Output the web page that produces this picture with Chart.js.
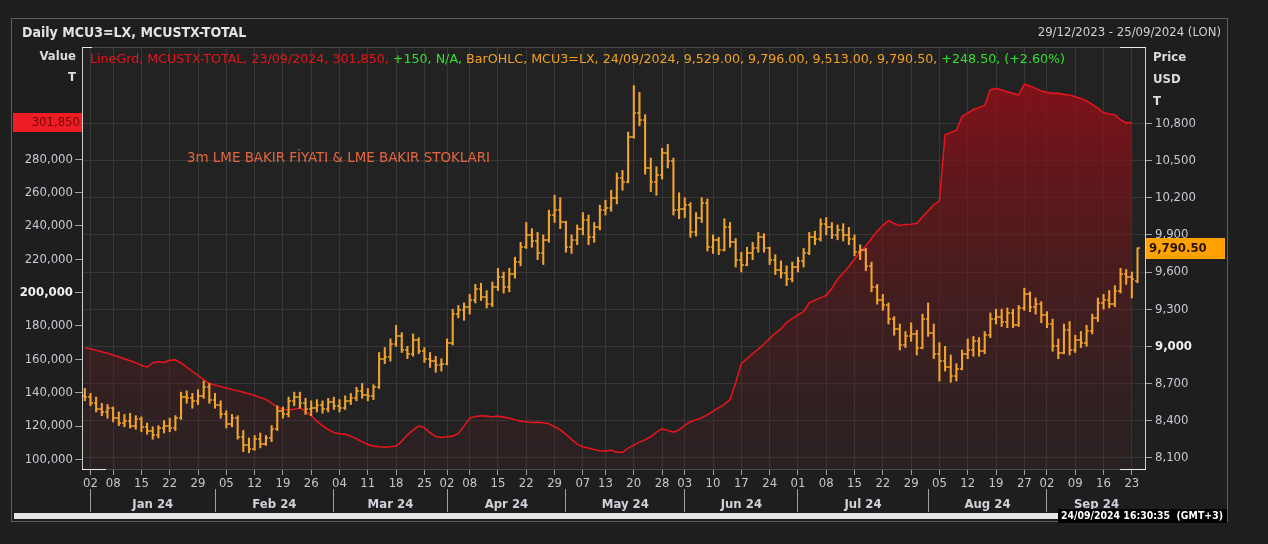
<!DOCTYPE html>
<html>
<head>
<meta charset="utf-8">
<script src="https://cdn.jsdelivr.net/npm/chart.js@4.4.1/dist/chart.umd.min.js"></script>
<style>
  html, body { margin: 0; padding: 0; background: #1e1e1e; }
  canvas { display: block; }
</style>
</head>
<body>
<canvas id="chart" width="1268" height="544"></canvas>
<script>
// trading days, 29/12/2023 - 25/09/2024
const dates = [
  '2023-12-29',
  '2024-01-02','2024-01-03','2024-01-04','2024-01-05','2024-01-08','2024-01-09','2024-01-10','2024-01-11','2024-01-12',
  '2024-01-15','2024-01-16','2024-01-17','2024-01-18','2024-01-19','2024-01-22','2024-01-23','2024-01-24','2024-01-25',
  '2024-01-26','2024-01-29','2024-01-30','2024-01-31',
  '2024-02-01','2024-02-02','2024-02-05','2024-02-06','2024-02-07','2024-02-08','2024-02-09','2024-02-12','2024-02-13',
  '2024-02-14','2024-02-15','2024-02-16','2024-02-19','2024-02-20','2024-02-21','2024-02-22','2024-02-23','2024-02-26',
  '2024-02-27','2024-02-28','2024-02-29',
  '2024-03-01','2024-03-04','2024-03-05','2024-03-06','2024-03-07','2024-03-08','2024-03-11','2024-03-12','2024-03-13',
  '2024-03-14','2024-03-15','2024-03-18','2024-03-19','2024-03-20','2024-03-21','2024-03-22','2024-03-25','2024-03-26',
  '2024-03-27','2024-03-28',
  '2024-04-02','2024-04-03','2024-04-04','2024-04-05','2024-04-08','2024-04-09','2024-04-10','2024-04-11','2024-04-12',
  '2024-04-15','2024-04-16','2024-04-17','2024-04-18','2024-04-19','2024-04-22','2024-04-23','2024-04-24','2024-04-25',
  '2024-04-26','2024-04-29','2024-04-30',
  '2024-05-01','2024-05-02','2024-05-03','2024-05-07','2024-05-08','2024-05-09','2024-05-10','2024-05-13','2024-05-14',
  '2024-05-15','2024-05-16','2024-05-17','2024-05-20','2024-05-21','2024-05-22','2024-05-23','2024-05-24','2024-05-28',
  '2024-05-29','2024-05-30','2024-05-31',
  '2024-06-03','2024-06-04','2024-06-05','2024-06-06','2024-06-07','2024-06-10','2024-06-11','2024-06-12','2024-06-13',
  '2024-06-14','2024-06-17','2024-06-18','2024-06-19','2024-06-20','2024-06-21','2024-06-24','2024-06-25','2024-06-26',
  '2024-06-27','2024-06-28',
  '2024-07-01','2024-07-02','2024-07-03','2024-07-04','2024-07-05','2024-07-08','2024-07-09','2024-07-10','2024-07-11',
  '2024-07-12','2024-07-15','2024-07-16','2024-07-17','2024-07-18','2024-07-19','2024-07-22','2024-07-23','2024-07-24',
  '2024-07-25','2024-07-26','2024-07-29','2024-07-30','2024-07-31',
  '2024-08-01','2024-08-02','2024-08-05','2024-08-06','2024-08-07','2024-08-08','2024-08-09','2024-08-12','2024-08-13',
  '2024-08-14','2024-08-15','2024-08-16','2024-08-19','2024-08-20','2024-08-21','2024-08-22','2024-08-23','2024-08-27',
  '2024-08-28','2024-08-29','2024-08-30',
  '2024-09-02','2024-09-03','2024-09-04','2024-09-05','2024-09-06','2024-09-09','2024-09-10','2024-09-11','2024-09-12',
  '2024-09-13','2024-09-16','2024-09-17','2024-09-18','2024-09-19','2024-09-20','2024-09-23','2024-09-24','2024-09-25'
];

const weekTicks = [
  '2024-01-02','2024-01-08','2024-01-15','2024-01-22','2024-01-29','2024-02-05','2024-02-12','2024-02-19','2024-02-26',
  '2024-03-04','2024-03-11','2024-03-18','2024-03-25','2024-04-02','2024-04-08','2024-04-15','2024-04-22','2024-04-29',
  '2024-05-07','2024-05-13','2024-05-20','2024-05-28','2024-06-03','2024-06-10','2024-06-17','2024-06-24','2024-07-01',
  '2024-07-08','2024-07-15','2024-07-22','2024-07-29','2024-08-05','2024-08-12','2024-08-19','2024-08-27','2024-09-02',
  '2024-09-09','2024-09-16','2024-09-23'
];
const monthNames = ['Jan 24','Feb 24','Mar 24','Apr 24','May 24','Jun 24','Jul 24','Aug 24','Sep 24'];

// MCU3=LX, 3m LME copper, USD/t
const open = [
  8600,8590,8545,8490,8470,8500,8420,8380,8400,8360,8410,8350,8320,8280,8340,8360,8340,8420,8590,8580,8560,8600,8670,
  8570,8530,8450,8370,8420,8270,8200,8170,8250,8210,8260,8330,8480,8450,8560,8590,8540,8490,8500,8530,8490,
  8550,8520,8500,8560,8580,8640,8610,8600,8670,8900,8910,9020,9080,8970,8940,9050,8960,8900,8880,8850,
  8860,9030,9260,9290,9320,9370,9460,9400,9340,9480,9560,9480,9580,9680,9800,9900,9850,9750,9860,10060,10100,
  10000,9800,9860,9950,10020,9880,9960,10100,10120,10200,10360,10330,10690,10880,10830,10440,10330,10380,10560,10500,10100,
  10110,10140,9920,10040,10160,9800,9860,9780,9960,9840,9700,9660,9750,9790,9880,9790,9700,9620,9590,9540,
  9640,9690,9750,9880,9870,9990,9960,9900,9940,9900,9870,9760,9780,9650,9480,9370,9330,9220,9140,9010,9080,9100,8990,
  9220,9110,8940,8880,8830,8760,8820,8940,8970,9040,8960,9090,9220,9240,9200,9270,9170,9310,9420,9320,9340,
  9250,9180,9000,8950,9130,8970,9050,9030,9120,9230,9350,9370,9340,9450,9580,9560,9529,null
];
const high = [
  8660,8620,8590,8540,8530,8510,8470,8450,8460,8440,8430,8380,8350,8360,8400,8420,8440,8630,8640,8620,8650,8720,8700,
  8620,8560,8480,8450,8440,8320,8260,8280,8300,8280,8360,8520,8510,8590,8630,8630,8580,8560,8570,8560,8580,
  8590,8570,8600,8620,8670,8700,8660,8690,8950,8990,9060,9170,9110,9000,9100,9070,8990,8950,8920,8900,
  9060,9300,9330,9350,9420,9500,9510,9450,9520,9630,9600,9630,9720,9840,10000,9950,9920,9900,10100,10220,10200,
  10010,9900,9980,10080,10060,10000,10140,10180,10260,10400,10420,10730,11105,11050,10870,10520,10450,10600,10630,10520,10240,
  10200,10160,10080,10200,10190,9900,9880,10030,10000,9870,9760,9800,9840,9920,9910,9800,9740,9690,9650,9680,
  9720,9790,9920,9930,10030,10040,10000,9980,9990,9960,9900,9820,9790,9680,9500,9420,9350,9240,9180,9120,9190,9130,9260,
  9350,9180,9030,9000,8930,8860,8970,9060,9080,9070,9120,9270,9300,9300,9310,9300,9330,9470,9440,9390,9360,
  9280,9220,9060,9180,9200,9090,9120,9170,9260,9390,9420,9450,9490,9630,9620,9600,9796,null
];
const low = [
  8560,8520,8470,8440,8420,8390,8360,8350,8340,8330,8310,8290,8250,8260,8300,8310,8320,8410,8540,8500,8530,8580,8540,
  8500,8420,8340,8350,8250,8150,8140,8160,8180,8200,8230,8320,8420,8430,8520,8500,8450,8440,8470,8460,8470,
  8490,8470,8490,8530,8560,8580,8560,8570,8660,8860,8880,9000,8950,8900,8920,8940,8870,8830,8790,8800,
  8850,9010,9230,9210,9260,9350,9370,9310,9320,9450,9430,9440,9550,9650,9790,9800,9700,9660,9840,10000,9950,
  9760,9750,9820,9900,9820,9840,9940,10060,10090,10150,10260,10320,10680,10780,10390,10250,10220,10350,10440,10060,10030,
  10040,9880,9890,10000,9770,9750,9740,9770,9800,9640,9600,9650,9700,9760,9760,9660,9580,9550,9490,9520,
  9600,9640,9740,9820,9850,9900,9870,9860,9850,9820,9730,9700,9610,9440,9340,9290,9180,9090,8970,8990,9040,8930,8980,
  9080,8900,8720,8800,8710,8720,8810,8900,8920,8920,8940,9070,9180,9160,9150,9150,9160,9290,9280,9260,9190,
  9150,8960,8900,8940,8930,8950,8990,9000,9100,9200,9300,9310,9320,9430,9500,9390,9513,null
];
const close = [
  8590,8545,8490,8470,8500,8420,8380,8400,8360,8410,8350,8320,8280,8340,8360,8340,8420,8590,8580,8560,8600,8670,8570,
  8530,8450,8370,8420,8270,8200,8170,8250,8210,8260,8330,8480,8450,8560,8590,8540,8490,8500,8530,8490,8550,
  8520,8500,8560,8580,8640,8610,8600,8670,8900,8910,9020,9080,8970,8940,9050,8960,8900,8880,8850,8860,
  9030,9260,9290,9320,9370,9460,9400,9340,9480,9560,9480,9580,9680,9800,9900,9850,9750,9860,10060,10100,10000,
  9800,9860,9950,10020,9880,9960,10100,10120,10200,10360,10330,10690,10880,10830,10440,10330,10380,10560,10500,10100,10110,
  10140,9920,10040,10160,9800,9860,9780,9960,9840,9700,9660,9750,9790,9880,9790,9700,9620,9590,9540,9640,
  9690,9750,9880,9870,9990,9960,9900,9940,9900,9870,9760,9780,9650,9480,9370,9330,9220,9140,9010,9080,9100,8990,9220,
  9110,8940,8880,8830,8760,8820,8940,8970,9040,8960,9090,9220,9240,9200,9270,9170,9310,9420,9320,9340,9250,
  9180,9000,8950,9130,8970,9050,9030,9120,9230,9350,9370,9340,9450,9580,9560,9542,9790.5,null
];

// MCUSTX-TOTAL, LME copper stocks, tonnes
const stocks = [
  166800,166400,165500,164600,163700,162600,161500,160300,159200,158000,156400,155300,158000,158600,158200,159400,
  159800,157800,155400,152800,150400,147900,145600,
  144600,143800,142900,142000,141200,140300,139400,138400,137200,135900,133800,131400,130000,129800,130100,131000,
  129000,126200,123000,120200,118000,
  116200,115400,115200,114000,112400,110600,109000,108000,107600,107400,107600,108000,111000,114800,117600,120200,
  119000,116000,113800,113200,
  113600,114000,115600,120000,124800,125800,126200,126000,125600,126000,125400,124800,123800,123000,122600,122200,
  122400,122000,121400,119600,117800,
  115000,112000,109200,107600,106800,106000,105200,105000,105600,104400,104200,106800,108600,110400,111800,113600,
  116400,118400,117400,116400,117600,
  120400,122600,123800,125000,126800,128800,131000,133000,136000,146000,157600,160400,163400,166200,169200,172400,
  175800,178200,182000,184400,
  186600,188600,194000,195400,197000,198400,202600,208000,211800,215600,220000,224400,228000,232400,236800,240200,
  243200,241400,240200,240800,241000,241600,245400,
  249000,252600,255000,294600,296000,297200,305600,307600,309800,311000,312200,321600,322400,321400,320400,319400,
  318400,325000,323800,322400,320800,
  320000,319400,319400,318800,318400,317400,316400,314800,312800,310600,307800,307000,306600,303600,301700,301850,
  null,null
];

const priceTicks = [8100, 8400, 8700, 9000, 9300, 9600, 9900, 10200, 10500, 10800];
const stockTicks = [100000, 120000, 140000, 160000, 180000, 200000, 220000, 240000, 260000, 280000];

const FONT = '"DejaVu Sans Condensed", "Liberation Sans Narrow", "DejaVu Sans", sans-serif';
const fmt = (v, d) => v.toLocaleString('en-US', { minimumFractionDigits: d || 0, maximumFractionDigits: d || 0 });
function fmtDate(d) { return d.slice(8, 10) + '/' + d.slice(5, 7) + '/' + d.slice(0, 4); }

// month starts / label centres, taken from the date list
const monthStarts = [];
dates.forEach((d, i) => { if (i > 0 && d.slice(5, 7) !== dates[i - 1].slice(5, 7)) monthStarts.push(i); });
const monthMid = monthStarts.map((s, k) => ((k < monthStarts.length - 1 ? monthStarts[k + 1] : dates.length - 0.5) + s) / 2);

// OHLC side ticks as point styles
function tickStyle(left) {
  const c = document.createElement('canvas');
  c.width = 5; c.height = 2;
  const g = c.getContext('2d');
  g.fillStyle = '#f2a52e';
  g.fillRect(left ? 0 : 2.5, 0.3, 2.5, 1.4);
  return c;
}

function stockFill(context) {
  const a = context.chart.chartArea;
  if (!a) return 'rgba(120,20,24,0.5)';
  const g = context.chart.ctx.createLinearGradient(0, a.top, 0, a.bottom);
  g.addColorStop(0, 'rgba(150,14,22,0.92)');
  g.addColorStop(0.5, 'rgba(110,22,26,0.55)');
  g.addColorStop(1, 'rgba(80,30,32,0.15)');
  return g;
}

const last = stocks.filter(v => v != null);
const sLast = last[last.length - 1], sPrev = last[last.length - 2];
const cl = close.filter(v => v != null);
const pLast = cl.length - 1;
const chg = cl[pLast] - cl[pLast - 1];
const legendParts = [
  ['LineGrd, MCUSTX-TOTAL, ' + fmtDate(dates[last.length - 1]) + ', ' + fmt(sLast) + ', ', '#e3161c'],
  ['+' + fmt(sLast - sPrev) + ', N/A, ', '#2fe02f'],
  ['BarOHLC, MCU3=LX, ' + fmtDate(dates[pLast]) + ', ' + fmt(open[pLast], 2) + ', ' + fmt(high[pLast], 2) + ', ' +
    fmt(low[pLast], 2) + ', ' + fmt(close[pLast], 2) + ', ', '#f0a21e'],
  ['+' + fmt(chg, 2) + ', (+' + (chg / cl[pLast - 1] * 100).toFixed(2) + '%)', '#2fe02f']
];

function line(ctx, x1, y1, x2, y2, col, w) {
  ctx.strokeStyle = col; ctx.lineWidth = w || 1;
  ctx.beginPath(); ctx.moveTo(x1, y1); ctx.lineTo(x2, y2); ctx.stroke();
}
function fitText(ctx, txt, x, y, w) {
  const m = ctx.measureText(txt).width;
  ctx.save();
  ctx.translate(x, y);
  ctx.scale(w / m, 1);
  ctx.fillText(txt, 0, 0);
  ctx.restore();
}

const decor = {
  id: 'decor',
  beforeDraw(chart) {
    const { ctx, chartArea: a } = chart;
    ctx.save();
    ctx.fillStyle = '#1e1e1e';
    ctx.fillRect(0, 0, chart.width, chart.height);
    ctx.fillStyle = '#222222';
    ctx.fillRect(a.left, a.top, a.right - a.left, a.bottom - a.top);
    ctx.restore();
  },
  afterDraw(chart) {
    const { ctx, chartArea: a } = chart;
    const yS = chart.scales.yS, yP = chart.scales.yP;
    ctx.save();

    // frames
    ctx.strokeStyle = '#5e5e5e'; ctx.lineWidth = 1;
    ctx.strokeRect(11.5, 18.5, 1216, 503);
    line(ctx, a.left, a.top + 0.5, a.right, a.top + 0.5, '#4a4a4a');
    line(ctx, a.left, a.bottom + 0.5, a.right, a.bottom + 0.5, '#4a4a4a');
    line(ctx, a.left + 0.5, a.top, a.left + 0.5, a.bottom + 1, '#cfcfcf');
    line(ctx, a.right - 0.5, a.top, a.right - 0.5, a.bottom + 1, '#cfcfcf');
    line(ctx, a.left, a.bottom + 0.5, a.left + 24, a.bottom + 0.5, '#e8e8e8');
    line(ctx, a.left, a.top + 0.5, a.left + 10, a.top + 0.5, '#e8e8e8');
    line(ctx, a.right - 26, a.top + 0.5, a.right, a.top + 0.5, '#e8e8e8');
    line(ctx, a.right - 26, a.bottom + 0.5, a.right, a.bottom + 0.5, '#e8e8e8');

    ctx.textBaseline = 'middle';
    // header
    ctx.fillStyle = '#e2e2e2';
    ctx.font = 'bold 14px ' + FONT;
    ctx.textAlign = 'left';
    ctx.fillText('Daily MCU3=LX, MCUSTX-TOTAL', 22, 33);
    ctx.font = '13px ' + FONT;
    ctx.fillStyle = '#cfcfcf';
    ctx.textAlign = 'right';
    ctx.fillText('29/12/2023 - 25/09/2024 (LON)', 1221, 33);

    // axis titles
    ctx.font = 'bold 13px ' + FONT;
    ctx.fillStyle = '#dcdcdc';
    ctx.fillText('Value', 76, 57);
    ctx.fillText('T', 76, 78);
    ctx.textAlign = 'left';
    ctx.fillText('Price', 1153, 58);
    ctx.fillText('USD', 1153, 80);
    ctx.fillText('T', 1153, 102);

    // legend row, fitted to its width in the reference
    ctx.font = '13px ' + FONT;
    const total = legendParts.reduce((s, p) => s + ctx.measureText(p[0]).width, 0);
    ctx.save();
    ctx.translate(90, 60);
    ctx.scale(975 / total, 1);
    let x = 0;
    legendParts.forEach(p => { ctx.fillStyle = p[1]; ctx.fillText(p[0], x, 0); x += ctx.measureText(p[0]).width; });
    ctx.restore();

    // annotation
    ctx.font = '14px ' + FONT;
    ctx.fillStyle = '#e4663e';
    fitText(ctx, '3m LME BAKIR FİYATI & LME BAKIR STOKLARI', 187, 158, 303);

    // last value boxes
    const ys = yS.getPixelForValue(sLast);
    ctx.fillStyle = '#ee1c24';
    ctx.fillRect(13, Math.round(ys) - 10, a.left - 13, 19);
    ctx.fillStyle = '#7a0606';
    ctx.font = '13px ' + FONT;
    ctx.textAlign = 'right';
    ctx.fillText(fmt(sLast), a.left - 2, ys);

    const yp = yP.getPixelForValue(close[pLast]);
    ctx.fillStyle = '#ffa200';
    ctx.fillRect(a.right, Math.round(yp) - 10, 79, 21);
    ctx.fillStyle = '#2a1400';
    ctx.font = 'bold 13px ' + FONT;
    ctx.textAlign = 'left';
    ctx.fillText(fmt(close[pLast], 2), a.right + 3, yp + 0.5);

    // scroll bar and time stamp
    ctx.fillStyle = '#e6e6e6';
    ctx.fillRect(14, 513, 1044, 6);
    ctx.fillStyle = '#000000';
    ctx.fillRect(1058, 509, 169, 14);
    ctx.fillStyle = '#ffffff';
    ctx.font = 'bold 11px ' + FONT;
    fitText(ctx, '24/09/2024 16:30:35  (GMT+3)', 1061, 516, 162);
    ctx.restore();
  }
};

const tickCol = '#a0a0a0';
const gridCol = '#373737';

new Chart(document.getElementById('chart'), {
  type: 'bar',
  data: {
    labels: dates,
    datasets: [
      {
        type: 'line', label: 'open', yAxisID: 'yP', data: open, showLine: false,
        pointStyle: tickStyle(true), pointRadius: 3, order: 0
      },
      {
        type: 'line', label: 'close', yAxisID: 'yP', data: close, showLine: false,
        pointStyle: tickStyle(false), pointRadius: 3, order: 0
      },
      {
        type: 'bar', label: 'MCU3=LX', yAxisID: 'yP',
        data: low.map((l, i) => (l == null ? null : [l, high[i]])),
        backgroundColor: '#f2a52e', barThickness: 1.4, borderWidth: 0, order: 1
      },
      {
        type: 'line', label: 'MCUSTX-TOTAL', yAxisID: 'yS', data: stocks,
        borderColor: '#e3141e', borderWidth: 1.6, pointRadius: 0, tension: 0,
        fill: 'start', backgroundColor: stockFill, order: 5
      }
    ]
  },
  options: {
    responsive: false,
    animation: false,
    events: [],
    layout: { padding: { top: 47, bottom: 32, left: 0, right: 0 } },
    plugins: { legend: { display: false }, tooltip: { enabled: false } },
    scales: {
      x: {
        type: 'category', offset: true, position: 'bottom', weight: 0,
        grid: { color: gridCol, offset: false, tickLength: 6, tickColor: tickCol },
        border: { display: false },
        ticks: {
          autoSkip: false, maxRotation: 0, padding: 1, color: '#c6c6c6',
          font: { family: FONT, size: 13 },
          callback: v => dates[v].slice(8, 10)
        },
        afterBuildTicks: s => { s.ticks = s.ticks.filter(t => weekTicks.includes(dates[t.value])); },
        afterFit: s => { s.height = 20; }
      },
      xSep: {
        type: 'linear', min: -0.5, max: dates.length - 0.5, bounds: 'data', offset: false,
        position: 'bottom', weight: 1,
        grid: { drawOnChartArea: false, offset: false, tickLength: 23, tickColor: tickCol },
        border: { display: false },
        ticks: { display: false },
        afterBuildTicks: s => { s.ticks = monthStarts.map(v => ({ value: v })); },
        afterFit: s => { s.height = 0; }
      },
      xMon: {
        type: 'linear', min: -0.5, max: dates.length - 0.5, bounds: 'data', offset: false,
        position: 'bottom', weight: 2,
        grid: { display: false, drawTicks: false, offset: false },
        border: { display: false },
        ticks: {
          autoSkip: false, maxRotation: 0, padding: 8, color: '#cfd2da',
          font: { family: FONT, size: 13, weight: 'bold' },
          callback: (v, i) => monthNames[i]
        },
        afterBuildTicks: s => { s.ticks = monthMid.map(v => ({ value: v })); },
        afterFit: s => { s.height = 23; }
      },
      yS: {
        type: 'linear', position: 'left', min: 94300, max: 347200, bounds: 'data',
        grid: { drawOnChartArea: false, tickLength: 7, tickColor: tickCol },
        border: { display: false },
        ticks: {
          padding: 2,
          color: c => (c.tick && c.tick.value === 200000 ? '#f2f2f2' : '#c6c9d2'),
          font: c => ({ family: FONT, size: 13, weight: c.tick && c.tick.value === 200000 ? 'bold' : 'normal' }),
          callback: v => fmt(v)
        },
        afterBuildTicks: s => { s.ticks = stockTicks.map(v => ({ value: v })); },
        afterFit: s => { s.width = 82; }
      },
      yP: {
        type: 'linear', position: 'right', min: 8009.5, max: 11416.8, bounds: 'data',
        grid: { color: gridCol, tickLength: 6, tickColor: tickCol },
        border: { display: false },
        ticks: {
          padding: 3,
          color: c => (c.tick && c.tick.value === 9000 ? '#f2f2f2' : '#c6c9d2'),
          font: c => ({ family: FONT, size: 13, weight: c.tick && c.tick.value === 9000 ? 'bold' : 'normal' }),
          callback: v => fmt(v)
        },
        afterBuildTicks: s => { s.ticks = priceTicks.map(v => ({ value: v })); },
        afterFit: s => { s.width = 122; }
      }
    }
  },
  plugins: [decor]
});
</script>
</body>
</html>
